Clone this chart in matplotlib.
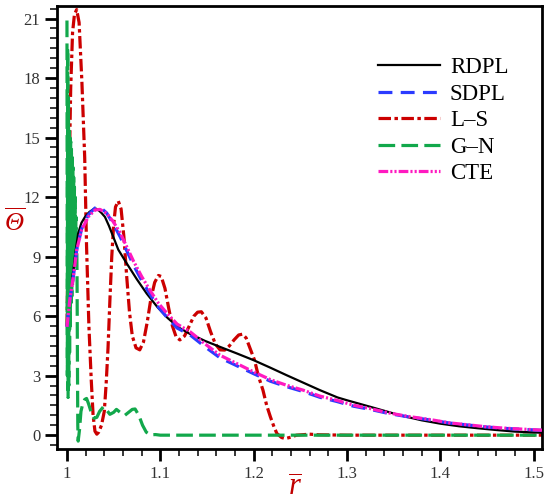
#!/usr/bin/env python3
"""Temperature profiles of the five heat conduction models against radius."""
import matplotlib
matplotlib.use("Agg")
import matplotlib.pyplot as plt
from matplotlib.ticker import MultipleLocator, FixedLocator

plt.rcParams["font.family"] = ["Liberation Serif", "DejaVu Serif"]
plt.rcParams["mathtext.fontset"] = "custom"
plt.rcParams["mathtext.rm"] = "Liberation Serif:italic"
plt.rcParams["mathtext.it"] = "Liberation Serif:italic"
plt.rcParams["lines.scale_dashes"] = False

# values
RDPL_R = [1.0055, 1.0068, 1.009, 1.012, 1.0155, 1.0193, 1.024, 1.028, 1.031,
          1.0336, 1.037, 1.0407, 1.045, 1.0496, 1.055, 1.064, 1.075, 1.0854,
          1.097, 1.108, 1.120, 1.132, 1.148, 1.164, 1.182, 1.200, 1.218,
          1.235, 1.253, 1.271, 1.290, 1.300, 1.325, 1.357, 1.380, 1.400,
          1.420, 1.440, 1.460, 1.480, 1.510]
RDPL_T = [7.9, 8.3, 9.2, 10.17, 10.7, 11.0, 11.25, 11.38, 11.42,
          11.35, 11.2, 11.0, 10.55, 10.0, 9.35, 8.66, 7.85, 7.14,
          6.45, 5.9, 5.42, 5.1, 4.75, 4.45, 4.12, 3.78, 3.4,
          3.03, 2.65, 2.27, 1.9, 1.76, 1.43, 1.0, 0.75, 0.58,
          0.45, 0.35, 0.26, 0.18, 0.12]

SDPL_R = [1.000, 1.003, 1.0068, 1.0104, 1.0157, 1.0228, 1.030, 1.0354,
          1.0425, 1.0496, 1.057, 1.064, 1.071, 1.080, 1.089, 1.098, 1.107,
          1.118, 1.132, 1.148, 1.164, 1.182, 1.200, 1.218, 1.235, 1.253,
          1.271, 1.289, 1.307, 1.325, 1.345, 1.365, 1.390, 1.410, 1.430,
          1.450, 1.470, 1.490, 1.510]
SDPL_T = [5.46, 6.8, 7.98, 9.33, 10.4, 11.1, 11.45, 11.5,
          11.2, 10.65, 10.0, 9.3, 8.6, 7.8, 7.1, 6.45, 5.95,
          5.4, 5.05, 4.45, 3.9, 3.5, 3.1, 2.72, 2.45, 2.2,
          1.91, 1.7, 1.46, 1.3, 1.09, 0.93, 0.76, 0.61, 0.51,
          0.41, 0.34, 0.29, 0.24]

LS_R = [1.000, 1.002, 1.004, 1.006, 1.008, 1.0104, 1.013, 1.016, 1.019,
        1.021, 1.0235, 1.026, 1.028, 1.030, 1.032, 1.034, 1.037, 1.040,
        1.042, 1.044, 1.046, 1.048, 1.050, 1.052, 1.055, 1.058, 1.061,
        1.064, 1.067, 1.070, 1.074, 1.078, 1.082, 1.086, 1.090, 1.094,
        1.098, 1.101, 1.105, 1.109, 1.113, 1.117, 1.121, 1.126, 1.131,
        1.136, 1.140, 1.144, 1.149, 1.154, 1.159, 1.164, 1.169, 1.174,
        1.179, 1.184, 1.188, 1.192, 1.196, 1.201, 1.205, 1.210, 1.214,
        1.218, 1.222, 1.225, 1.230, 1.234, 1.240, 1.246, 1.260, 1.270,
        1.300, 1.510]
LS_T = [5.5, 12.0, 17.5, 20.3, 21.2, 21.45, 20.8, 17.8, 14.0,
        9.5, 5.5, 2.8, 1.0, 0.2, 0.05, 0.15, 0.5, 1.2,
        2.6, 4.4, 6.8, 9.0, 10.6, 11.5, 11.8, 11.4, 10.0,
        8.0, 6.2, 5.0, 4.4, 4.3, 4.7, 5.7, 6.9, 7.7,
        8.05, 8.0, 7.4, 6.4, 5.5, 4.95, 4.8, 5.0, 5.5,
        6.0, 6.2, 6.22, 5.9, 5.2, 4.6, 4.3, 4.29, 4.5,
        4.8, 5.05, 5.09, 4.9, 4.4, 3.78, 3.0, 2.27, 1.5,
        0.92, 0.4, 0.08, -0.12, -0.17, -0.1, 0.0, 0.05, 0.02,
        0.0, 0.0]

GN_R = [1.0000, 1.0004, 1.0008, 1.0012, 1.0016, 1.0020, 1.0024, 1.0028,
        1.0032, 1.0036, 1.0040, 1.0044, 1.0048, 1.0052, 1.0056, 1.0060,
        1.0064, 1.0068, 1.0072, 1.0076, 1.0080, 1.0084, 1.0088, 1.0092,
        1.0096, 1.0100, 1.0104, 1.0108, 1.0112, 1.0116, 1.0120, 1.0135,
        1.0150, 1.017, 1.019, 1.021, 1.023, 1.026, 1.029, 1.032, 1.035,
        1.039, 1.042, 1.046, 1.050, 1.053, 1.057, 1.062, 1.066, 1.070,
        1.073, 1.077, 1.081, 1.085, 1.089, 1.095, 1.100, 1.510]
GN_T = [20.9, 3.0, 19.5, 1.9, 17.0, 2.5, 15.5, 4.0,
        15.0, 5.5, 14.8, 6.5, 14.5, 7.0, 14.0, 7.5,
        13.5, 8.0, 13.0, 8.5, 12.5, 9.0, 12.0, 9.0,
        11.0, 9.5, 10.0, 8.0, 4.0, 0.5, -0.3, 0.3,
        1.2, 1.6, 1.8, 1.85, 1.6, 1.15, 0.85, 0.9, 1.2,
        1.43, 1.3, 1.05, 1.15, 1.3, 1.15, 1.0, 1.15, 1.3,
        1.32, 1.0, 0.5, 0.15, 0.02, 0.03, 0.0, 0.0]

CTE_R = [1.000, 1.003, 1.0068, 1.0104, 1.0157, 1.0228, 1.030, 1.0354,
         1.0425, 1.0496, 1.057, 1.064, 1.071, 1.080, 1.089, 1.098, 1.107,
         1.118, 1.132, 1.148, 1.164, 1.182, 1.200, 1.218, 1.235, 1.253,
         1.271, 1.289, 1.307, 1.325, 1.345, 1.365, 1.390, 1.410, 1.430,
         1.450, 1.470, 1.490, 1.510]
CTE_T = [5.46, 6.8, 7.98, 9.33, 10.34, 11.0, 11.35, 11.38,
         11.18, 10.76, 10.2, 9.5, 8.8, 8.0, 7.3, 6.65, 6.15,
         5.6, 5.21, 4.6, 4.03, 3.61, 3.19, 2.8, 2.52, 2.27,
         1.97, 1.76, 1.51, 1.34, 1.12, 0.95, 0.78, 0.62, 0.52,
         0.42, 0.35, 0.30, 0.25]

X_TICKS = [1.0, 1.1, 1.2, 1.3, 1.4, 1.5]
X_TICK_LABELS = ["1", "1.1", "1.2", "1.3", "1.4", "1.5"]
Y_TICKS = [0, 3, 6, 9, 12, 15, 18, 21]

fig = plt.figure(figsize=(5.5, 5.03), dpi=100)
ax = fig.add_axes([0.1036, 0.107, 0.882, 0.881])

# draw order: red under green, then the smooth curves on top
ax.plot(LS_R, LS_T, color="#cc0000", lw=2.3,
        dashes=(9, 2.5, 2.5, 2.5), label="L\u2013S", zorder=2)
ax.plot(GN_R, GN_T, color="#12a84b", lw=2.3,
        dashes=(12, 4.5), label="G\u2013N", zorder=3)
ax.plot(RDPL_R, RDPL_T, color="black", lw=1.6, label="RDPL", zorder=4)
ax.plot(SDPL_R, SDPL_T, color="#2b3bff", lw=2.3,
        dashes=(10, 6), label="SDPL", zorder=5)
ax.plot(CTE_R, CTE_T, color="#ff19c0", lw=2.3,
        dashes=(7, 1.5, 1.5, 1.5, 1.5, 1.5), label="CTE", zorder=6)

ax.set_xlim(0.9893, 1.5091)
ax.set_ylim(-0.706, 21.63)

ax.xaxis.set_major_locator(FixedLocator(X_TICKS))
ax.set_xticklabels(X_TICK_LABELS)
ax.xaxis.set_minor_locator(MultipleLocator(0.02))
ax.yaxis.set_major_locator(FixedLocator(Y_TICKS))
ax.yaxis.set_minor_locator(MultipleLocator(0.5))

ax.tick_params(which="major", direction="out", length=8.5, width=2.0,
               labelsize=12, labelcolor="#333333", pad=3.5)
ax.tick_params(which="minor", direction="out", length=5, width=1.1)

for sp in ax.spines.values():
    sp.set_linewidth(2.0)

ax.set_ylabel(r"$\overline{\Theta}$", color="#c00000", fontsize=19,
              rotation=0, ha="center", va="center")
ax.yaxis.set_label_coords(-0.087, 0.512)
ax.set_xlabel(r"$\overline{r}$", color="#c00000", fontsize=22,
              ha="center", va="center")
ax.xaxis.set_label_coords(0.491, -0.088)

# legend in the model order of the reference
handles, labels = ax.get_legend_handles_labels()
order = ["RDPL", "SDPL", "L\u2013S", "G\u2013N", "CTE"]
hmap = dict(zip(labels, handles))
ax.legend([hmap[k] for k in order], order, loc="upper left",
          bbox_to_anchor=(0.619, 0.9315), frameon=False, fontsize=16.5,
          handlelength=2.7, handletextpad=0.44, labelspacing=0.24,
          borderpad=0.4)

fig.savefig("out.png", dpi=100)
